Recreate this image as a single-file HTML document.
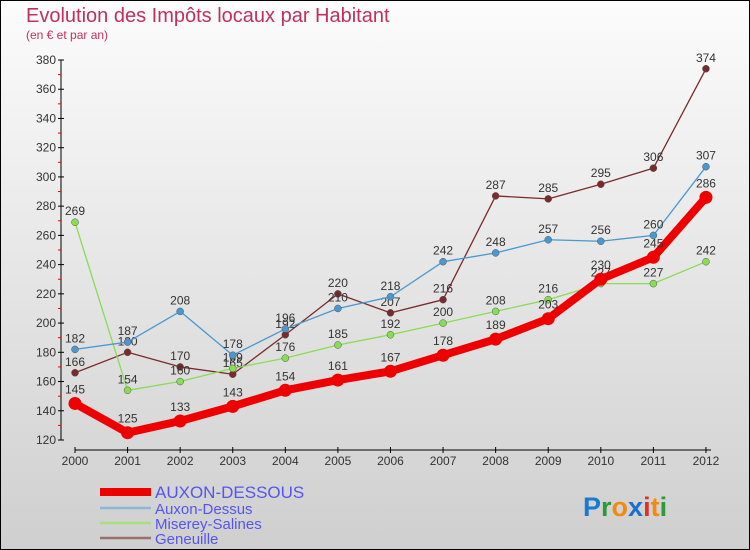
<!DOCTYPE html>
<html><head><meta charset="utf-8"><style>
body{margin:0;width:750px;height:550px;overflow:hidden;}
svg{display:block;font-family:"Liberation Sans","DejaVu Sans",sans-serif;}
</style></head><body>
<svg id="c" width="750" height="550" viewBox="0 0 750 550">
<defs><linearGradient id="bg" x1="0" y1="0" x2="0" y2="1"><stop offset="0" stop-color="#fcfcfc"/><stop offset="1" stop-color="#cfcfcf"/></linearGradient></defs>
<rect x="0.5" y="0.5" width="749" height="549" fill="url(#bg)" stroke="#000"/>
<text x="26" y="22" font-size="20" fill="#c0305c">Evolution des Impôts locaux par Habitant</text>
<text x="26" y="39" font-size="12" fill="#c0305c">(en € et par an)</text>
<g id="axes"></g><g id="series"></g><g id="legend"></g>
<text x="583" y="516" font-size="27" font-family="'Liberation Sans',sans-serif" font-weight="bold"><tspan fill="#1a7ad0">P</tspan><tspan fill="#2a9a3a">r</tspan><tspan fill="#f08a10">o</tspan><tspan fill="#1a6fd0">x</tspan><tspan fill="#e03020">i</tspan><tspan fill="#f08a10">t</tspan><tspan fill="#2a9a3a">i</tspan></text>
</svg>
<script>
const years=[2000,2001,2002,2003,2004,2005,2006,2007,2008,2009,2010,2011,2012];
const yTicks=[120,140,160,180,200,220,240,260,280,300,320,340,360,380];
const auxonDessous=[145,125,133,143,154,161,167,178,189,203,230,245,286];
const auxonDessus=[182,187,208,178,196,210,218,242,248,257,256,260,307];
const misereySalines=[269,154,160,169,176,185,192,200,208,216,227,227,242];
const geneuille=[166,180,170,165,192,220,207,216,287,285,295,306,374];
const seriesNames=["AUXON-DESSOUS","Auxon-Dessus","Miserey-Salines","Geneuille"];
const NS="http://www.w3.org/2000/svg";
const x=i=>75+i*52.58;
const y=v=>440-(v-120)*380/260;
function mk(t,a,p){const e=document.createElementNS(NS,t);for(const k in a)e.setAttribute(k,a[k]);p.appendChild(e);return e;}
const ax=document.getElementById('axes');
const yl=mk('line',{x1:61,y1:60,x2:61,y2:440,stroke:'#000'},ax);


yTicks.forEach(v=>{
 mk('line',{x1:58,y1:y(v),x2:64,y2:y(v),stroke:'#000'},ax);
 if(v<380){mk('line',{x1:58,y1:y(v+10),x2:61,y2:y(v+10),stroke:'#e00'},ax);}
 const t=mk('text',{x:56,y:y(v)+4,'text-anchor':'end','font-size':12,fill:'#333'},ax);t.textContent=v;
 
 
});
const xl=mk('line',{x1:75,y1:450,x2:711,y2:450,stroke:'#000'},ax);


years.forEach((yr,i)=>{
 mk('line',{x1:x(i),y1:447,x2:x(i),y2:453,stroke:'#000'},ax);
 const t=mk('text',{x:x(i),y:465,'text-anchor':'middle','font-size':12,fill:'#333'},ax);t.textContent=yr;
 
 
});
const S=[
 {d:auxonDessous,c:'#ee0000',w:8,r:6.5,n:'auxon-dessous'},
 {d:auxonDessus,c:'#4a98d0',w:1.3,r:3.5,n:'auxon-dessus'},
 {d:misereySalines,c:'#88dd55',w:1.3,r:3.5,n:'miserey-salines'},
 {d:geneuille,c:'#7a2a2a',w:1.3,r:3.5,n:'geneuille'}];
const sg=document.getElementById('series');
[3,2,1,0].forEach(k=>{
 const s=S[k];const g=mk('g',{},sg);
 
 
 const pl=mk('polyline',{points:s.d.map((v,i)=>x(i)+','+y(v)).join(' '),fill:'none',stroke:s.c,'stroke-width':s.w,'stroke-linejoin':'round'},g);
 
 
 s.d.forEach((v,i)=>{
  const c=mk('circle',{cx:x(i),cy:y(v),r:s.r,fill:s.c,stroke:k==0?'none':'#555','stroke-width':0.5},g);
  
  
  const t=mk('text',{x:x(i),y:y(v)-(k==0?10:7),'text-anchor':'middle','font-size':12,fill:'#333'},g);t.textContent=v;
  
  
 });
});
const lg=document.getElementById('legend');
const ly=[492,508,523,538],lw=[8,2.5,2.5,2.5],lc=['#ee0000','#8ab8d8','#a8e080','#987070'],fs=[17,15,15,15];
seriesNames.forEach((n,k)=>{
 const g=mk('g',{},lg);
 
 
 mk('line',{x1:100,y1:ly[k],x2:151,y2:ly[k],stroke:lc[k],'stroke-width':lw[k]},g);
 const t=mk('text',{x:155,y:ly[k]+6,'font-size':fs[k],fill:'#5555ee'},g);t.textContent=n;
});
</script>
</body></html>
